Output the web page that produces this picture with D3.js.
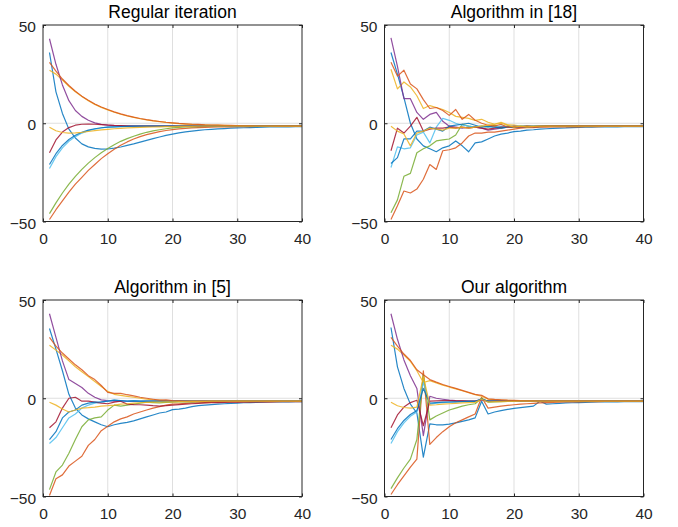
<!DOCTYPE html>
<html>
<head>
<meta charset="utf-8">
<script src="https://cdn.jsdelivr.net/npm/d3@7"></script>
<style>
  body { margin: 0; background: #fff; }
  svg { display: block; }
  text { font-family: "Liberation Sans", Arial, Helvetica, sans-serif; }
</style>
</head>
<body>
<svg id="chart" width="678" height="527"></svg>
<script>
const iterations = d3.range(1, 41);
const xTicks = [0, 10, 20, 30, 40];
const yTicks = [-50, 0, 50];
const titles = ["Regular iteration", "Algorithm in [18]", "Algorithm in [5]", "Our algorithm"];
// matlab default order, wraps after 7
const seriesColors = ["#0072BD", "#D95319", "#EDB120", "#7E2F8E", "#77AC30", "#4DBEEE", "#A2142F", "#0072BD", "#D95319", "#EDB120"];

// Regular iteration
const regBlueA = [36, 16, 5, -3, -7.5, -10.5, -12, -12.8, -13.2, -13.1, -12.7, -12.1, -11.3, -10.5, -9.6, -8.7, -7.8, -7, -6.2, -5.5, -4.9, -4.4, -4, -3.6, -3.3, -3.1, -2.9, -2.7, -2.5, -2.4, -2.3, -2.2, -2.1, -2, -1.9, -1.9, -1.8, -1.8, -1.7, -1.7];
const regOrangeA = [-49, -44, -39.5, -35, -31, -27.5, -24, -21, -18, -15.5, -13.2, -11.2, -9.5, -8, -6.8, -5.8, -5, -4.3, -3.7, -3.2, -2.9, -2.6, -2.4, -2.2, -2.1, -2, -1.9, -1.8, -1.8, -1.7, -1.7, -1.7, -1.6, -1.6, -1.6, -1.6, -1.6, -1.5, -1.5, -1.5];
const regYellowA = [27, 25, 22, 18.8, 16, 13.6, 11.5, 9.6, 8.1, 6.8, 5.6, 4.6, 3.7, 3, 2.3, 1.7, 1.2, 0.8, 0.4, 0.1, -0.2, -0.4, -0.6, -0.7, -0.8, -0.9, -1, -1.1, -1.2, -1.2, -1.3, -1.3, -1.4, -1.4, -1.4, -1.5, -1.5, -1.5, -1.5, -1.5];
const regPurple = [43, 30, 19.5, 11.5, 6.5, 3.5, 1.5, 0.2, -0.6, -1, -1.2, -1.3, -1.4, -1.4, -1.5, -1.5, -1.5, -1.5, -1.5, -1.5, -1.5, -1.5, -1.5, -1.5, -1.5, -1.5, -1.5, -1.5, -1.5, -1.5, -1.5, -1.5, -1.5, -1.5, -1.5, -1.5, -1.5, -1.5, -1.5, -1.5];
const regGreen = [-46, -40.5, -35.5, -31, -27, -23.5, -20.3, -17.5, -15, -12.8, -10.9, -9.2, -7.8, -6.6, -5.5, -4.6, -3.9, -3.3, -2.8, -2.4, -2.1, -1.9, -1.8, -1.7, -1.6, -1.6, -1.5, -1.5, -1.5, -1.5, -1.5, -1.5, -1.5, -1.5, -1.5, -1.5, -1.5, -1.5, -1.5, -1.5];
const regLightBlue = [-23, -17, -12.5, -9.2, -6.8, -5, -3.8, -3, -2.4, -2, -1.8, -1.6, -1.5, -1.5, -1.5, -1.5, -1.5, -1.5, -1.5, -1.5, -1.5, -1.5, -1.5, -1.5, -1.5, -1.5, -1.5, -1.5, -1.5, -1.5, -1.5, -1.5, -1.5, -1.5, -1.5, -1.5, -1.5, -1.5, -1.5, -1.5];
const regDarkRed = [-15, -8.5, -4.5, -2.2, -1, -0.5, -0.4, -0.5, -0.7, -0.9, -1.1, -1.2, -1.3, -1.4, -1.4, -1.5, -1.5, -1.5, -1.5, -1.5, -1.5, -1.5, -1.5, -1.5, -1.5, -1.5, -1.5, -1.5, -1.5, -1.5, -1.5, -1.5, -1.5, -1.5, -1.5, -1.5, -1.5, -1.5, -1.5, -1.5];
const regBlueB = [-21, -15.5, -11.3, -8.3, -6.1, -4.6, -3.5, -2.8, -2.3, -2, -1.8, -1.7, -1.6, -1.5, -1.5, -1.5, -1.5, -1.5, -1.5, -1.5, -1.5, -1.5, -1.5, -1.5, -1.5, -1.5, -1.5, -1.5, -1.5, -1.5, -1.5, -1.5, -1.5, -1.5, -1.5, -1.5, -1.5, -1.5, -1.5, -1.5];
const regOrangeB = [31, 26.5, 22.5, 19.2, 16.3, 13.8, 11.7, 9.8, 8.3, 7, 5.8, 4.8, 3.9, 3.1, 2.4, 1.8, 1.3, 0.9, 0.5, 0.2, -0.1, -0.3, -0.5, -0.6, -0.8, -0.9, -1, -1.1, -1.1, -1.2, -1.3, -1.3, -1.4, -1.4, -1.4, -1.5, -1.5, -1.5, -1.5, -1.5];
const regYellowB = [-2, -3.8, -4.7, -5, -4.9, -4.6, -4.2, -3.8, -3.4, -3.1, -2.8, -2.6, -2.4, -2.2, -2.1, -2, -1.9, -1.8, -1.7, -1.7, -1.6, -1.6, -1.6, -1.5, -1.5, -1.5, -1.5, -1.5, -1.5, -1.5, -1.5, -1.5, -1.5, -1.5, -1.5, -1.5, -1.5, -1.5, -1.5, -1.5];

// Algorithm in [18]
const r18BlueA = [36, 25, 13, 0, -8, -11.5, -13, -14.5, -12.5, -11.5, -9, -11.5, -14.5, -10, -9.5, -8, -6.5, -5.5, -5, -4.3, -4, -3.5, -3.3, -3, -2.8, -2.6, -2.5, -2.4, -2.2, -2.1, -2, -2, -1.9, -1.9, -1.8, -1.8, -1.7, -1.7, -1.7, -1.7];
const r18OrangeA = [-49, -42, -34.5, -35.5, -33.5, -28.5, -21, -23.5, -14, -13.5, -12.5, -10, -6.5, -5, -5, -4.5, -4.5, -4, -3.5, -3, -2.5, -2.3, -2.2, -2, -2, -1.9, -1.9, -1.8, -1.8, -1.8, -1.7, -1.7, -1.7, -1.6, -1.6, -1.6, -1.6, -1.6, -1.6, -1.6];
const r18YellowA = [27.5, 17.5, 21, 18.5, 14, 7.5, 9, 8, 7, 5.5, 3.5, 3, 2.5, 1.5, 2, 0.5, -0.5, 0.5, -0.8, -1, -1.5, -1.2, -1.5, -1.4, -1.3, -1.5, -1.4, -1.6, -1.5, -1.5, -1.5, -1.5, -1.5, -1.5, -1.5, -1.5, -1.5, -1.5, -1.5, -1.5];
const r18Purple = [43.5, 29, 12.5, 12.5, 5.5, 2, 4.5, 5.5, 1, -1.5, -2, -2.5, -2, -2, -2.5, -3.5, -3, -2.5, -2, -2, -1.8, -1.8, -1.7, -1.7, -1.6, -1.6, -1.6, -1.5, -1.5, -1.5, -1.5, -1.5, -1.5, -1.5, -1.5, -1.5, -1.5, -1.5, -1.5, -1.5];
const r18Green = [-45.5, -39, -27, -25.5, -15, -13, -11.5, -9, -8.5, -8, -6, -0.5, -1.5, -2, -1.5, -2, -1, -2.5, -1.5, -2, -1.5, -2, -1.6, -1.7, -1.5, -1.6, -1.5, -1.5, -1.5, -1.5, -1.5, -1.5, -1.5, -1.5, -1.5, -1.5, -1.5, -1.5, -1.5, -1.5];
const r18LightBlue = [-22.5, -12, -13, -12.5, -6, -4.5, -10, -2, 2.5, 1.5, 0, -1, -1.5, -2, -1.5, -2, -1.8, -1.5, -1.6, -1.5, -1.5, -1.5, -1.5, -1.5, -1.5, -1.5, -1.5, -1.5, -1.5, -1.5, -1.5, -1.5, -1.5, -1.5, -1.5, -1.5, -1.5, -1.5, -1.5, -1.5];
const r18DarkRed = [-14, -2.5, -5, -1.5, 3, -4, -3, -2.5, -2.5, -2, -2.5, -2, -2.5, -2, -2.5, -3, -2.5, -2, -2, -1.8, -1.8, -1.7, -1.7, -1.6, -1.6, -1.5, -1.5, -1.5, -1.5, -1.5, -1.5, -1.5, -1.5, -1.5, -1.5, -1.5, -1.5, -1.5, -1.5, -1.5];
const r18BlueB = [-20.5, -17.5, -8, -8, -4, -4, -2, -3, -4, -1.5, -1, -0.5, 0, -1, -2, -1.5, -2, -2.5, -2, -1.8, -1.7, -1.6, -1.6, -1.5, -1.5, -1.5, -1.5, -1.5, -1.5, -1.5, -1.5, -1.5, -1.5, -1.5, -1.5, -1.5, -1.5, -1.5, -1.5, -1.5];
const r18OrangeB = [31, 24, 27, 20, 17.5, 12, 7.5, 8, 6.5, 4, 7, 2, 4.5, 1.5, 0, -1, -1.5, -0.5, -2, -1.5, -1.8, -1.5, -1.7, -1.6, -1.5, -1.5, -1.5, -1.5, -1.5, -1.5, -1.5, -1.5, -1.5, -1.5, -1.5, -1.5, -1.5, -1.5, -1.5, -1.5];
const r18YellowB = [-1.5, -4, -5.5, -11.5, -5, -4, -2.5, -3, -3.5, -2.5, -2.5, -2, -2.5, -2, -1.5, -1, -0.5, 0, -1, -2, -1.5, -1.8, -1.6, -1.5, -1.5, -1.5, -1.5, -1.5, -1.5, -1.5, -1.5, -1.5, -1.5, -1.5, -1.5, -1.5, -1.5, -1.5, -1.5, -1.5];

// Algorithm in [5]
const r5BlueA = [35.5, 25, 14, 2, -5, -8.5, -10.5, -12, -13.5, -14.5, -13.5, -12.8, -12.3, -11.5, -10.5, -9.5, -8.5, -7.5, -7, -5.8, -5.5, -5, -4.3, -3.8, -3.5, -3.2, -3, -2.8, -2.6, -2.5, -2.3, -2.2, -2.1, -2, -1.9, -1.9, -1.8, -1.8, -1.7, -1.7];
const r5OrangeA = [-49.5, -41, -39, -34.5, -32, -29.5, -24, -21, -16.5, -14.3, -12, -10.5, -9.5, -8, -7, -6, -5, -4.3, -3.5, -3, -2.8, -2.6, -2.4, -2.3, -2.2, -2.1, -2, -1.9, -1.9, -1.8, -1.8, -1.8, -1.7, -1.7, -1.7, -1.7, -1.6, -1.6, -1.6, -1.6];
const r5YellowA = [27, 24.5, 22, 19, 16, 13.5, 11, 8.5, 6, 3.5, 2, 1.5, 1, 0.5, 0, -0.5, -0.8, -1, -1.3, -1.4, -1.2, -1.4, -1.5, -1.4, -1.5, -1.5, -1.5, -1.5, -1.5, -1.5, -1.5, -1.5, -1.5, -1.5, -1.5, -1.5, -1.5, -1.5, -1.5, -1.5];
const r5Purple = [43, 31, 19, 9.5, 7.5, 5.5, 2.5, 0.5, -0.8, -1.2, -1.5, -1.3, -1.6, -1.5, -1.6, -1.5, -1.5, -1.5, -1.5, -1.5, -1.5, -1.5, -1.5, -1.5, -1.5, -1.5, -1.5, -1.5, -1.5, -1.5, -1.5, -1.5, -1.5, -1.5, -1.5, -1.5, -1.5, -1.5, -1.5, -1.5];
const r5Green = [-46.5, -37.5, -34, -28, -21, -14.5, -11, -10, -9.5, -6, -3.5, -4, -3.5, -3, -2.5, -2, -2.2, -2.4, -2.1, -2, -1.9, -1.8, -1.8, -1.7, -1.7, -1.6, -1.6, -1.6, -1.5, -1.5, -1.5, -1.5, -1.5, -1.5, -1.5, -1.5, -1.5, -1.5, -1.5, -1.5];
const r5LightBlue = [-23, -20, -15, -10, -8, -5, -3.5, -2.5, -2, -1.5, -1, -1.3, -1.5, -1.2, -1.5, -1.5, -1.5, -1.5, -1.5, -1.5, -1.5, -1.5, -1.5, -1.5, -1.5, -1.5, -1.5, -1.5, -1.5, -1.5, -1.5, -1.5, -1.5, -1.5, -1.5, -1.5, -1.5, -1.5, -1.5, -1.5];
const r5DarkRed = [-15, -12, -5, 0, 0.5, -1.5, -1.5, -2, -2.5, -2.8, -2, -1.5, -3, -3.2, -3.3, -3.5, -3.8, -4, -3.8, -3.5, -3.2, -3, -2.8, -2.6, -2.4, -2.3, -2.2, -2.1, -2, -2, -1.9, -1.9, -1.8, -1.8, -1.8, -1.7, -1.7, -1.7, -1.7, -1.7];
const r5BlueB = [-21, -17, -10, -7, -6, -3.5, -2.5, -2, -1.8, -1.5, -1, -1.2, -1.5, -1.3, -1.5, -1.5, -1.5, -1.5, -1.5, -1.5, -1.5, -1.5, -1.5, -1.5, -1.5, -1.5, -1.5, -1.5, -1.5, -1.5, -1.5, -1.5, -1.5, -1.5, -1.5, -1.5, -1.5, -1.5, -1.5, -1.5];
const r5OrangeB = [31, 26.5, 23, 20, 17, 14.5, 11.5, 9.5, 6.5, 3, 2.5, 2.5, 1.8, 1.2, 0.5, 0, -0.5, -1, -0.8, -1.2, -1.3, -1.4, -1.5, -1.4, -1.5, -1.5, -1.5, -1.5, -1.5, -1.5, -1.5, -1.5, -1.5, -1.5, -1.5, -1.5, -1.5, -1.5, -1.5, -1.5];
const r5YellowB = [-2, -3.5, -5.5, -7, -6, -5, -4.8, -4.5, -4, -3.8, -3.5, -3, -2.8, -2.5, -2.3, -2.1, -2, -1.9, -1.8, -1.8, -1.7, -1.7, -1.6, -1.6, -1.6, -1.5, -1.5, -1.5, -1.5, -1.5, -1.5, -1.5, -1.5, -1.5, -1.5, -1.5, -1.5, -1.5, -1.5, -1.5];

// Our algorithm
const oursBlueA = [36, 16, 5, -3, -7.5, -30, -13, -13.5, -13.5, -13.2, -12.5, -11.8, -11, -10, -1.5, -8, -7, -6.3, -5.7, -5.2, -4.8, -4.4, -4, -1.5, -3, -2.8, -2.6, -2.4, -2.3, -2.2, -2.1, -2, -1.9, -1.9, -1.8, -1.8, -1.7, -1.7, -1.7, -1.7];
const oursOrangeA = [-49, -44, -39.5, -35, -31, 14, -23.5, -20, -17, -14.5, -12.5, -11, -9.5, -8, 0.5, -5, -4.5, -4, -3.6, -3.3, -3, -2.8, -2.6, -2.4, -2.2, -2.1, -2, -1.9, -1.8, -1.8, -1.7, -1.7, -1.7, -1.6, -1.6, -1.6, -1.6, -1.6, -1.6, -1.6];
const oursYellowA = [27, 25, 22, 18.8, 14, 8, 9, 7.8, 6.7, 5.7, 4.8, 3.8, 2.8, 1.8, 1, -0.5, -0.8, -1, -1.1, -1.2, -1.3, -1.3, -1.4, -1.4, -1.4, -1.5, -1.5, -1.5, -1.5, -1.5, -1.5, -1.5, -1.5, -1.5, -1.5, -1.5, -1.5, -1.5, -1.5, -1.5];
const oursPurple = [43, 30, 19.5, 11.5, 5, -19, 1, 0, -0.5, -1, -1.2, -1.3, -1.4, -1.4, -0.5, -1.5, -1.5, -1.5, -1.5, -1.5, -1.5, -1.5, -1.5, -1.5, -1.5, -1.5, -1.5, -1.5, -1.5, -1.5, -1.5, -1.5, -1.5, -1.5, -1.5, -1.5, -1.5, -1.5, -1.5, -1.5];
const oursGreen = [-46, -40.5, -35.5, -31, -21, 12, -11, -9, -7.5, -6, -5, -4, -3.3, -2.8, 0, -2, -1.8, -1.7, -1.6, -1.6, -1.5, -1.5, -1.5, -1.5, -1.5, -1.5, -1.5, -1.5, -1.5, -1.5, -1.5, -1.5, -1.5, -1.5, -1.5, -1.5, -1.5, -1.5, -1.5, -1.5];
const oursLightBlue = [-23, -17, -12.5, -9.2, -7, 8, -3, -2.5, -2.2, -2, -1.8, -1.6, -1.5, -1.5, -0.5, -1.5, -1.5, -1.5, -1.5, -1.5, -1.5, -1.5, -1.5, -1.5, -1.5, -1.5, -1.5, -1.5, -1.5, -1.5, -1.5, -1.5, -1.5, -1.5, -1.5, -1.5, -1.5, -1.5, -1.5, -1.5];
const oursDarkRed = [-15, -8.5, -4.5, -2.2, -1, -14, -1.5, -1.3, -1.2, -1.2, -1.3, -1.3, -1.4, -1.4, -0.8, -1.5, -1.5, -1.5, -1.5, -1.5, -1.5, -1.5, -1.5, -1.5, -1.5, -1.5, -1.5, -1.5, -1.5, -1.5, -1.5, -1.5, -1.5, -1.5, -1.5, -1.5, -1.5, -1.5, -1.5, -1.5];
const oursBlueB = [-21, -15.5, -11.3, -8.3, -6.3, 5, -2.5, -2.2, -2, -1.9, -1.8, -1.7, -1.6, -1.6, -0.5, -1.5, -1.5, -1.5, -1.5, -1.5, -1.5, -1.5, -1.5, -1.5, -1.5, -1.5, -1.5, -1.5, -1.5, -1.5, -1.5, -1.5, -1.5, -1.5, -1.5, -1.5, -1.5, -1.5, -1.5, -1.5];
const oursOrangeB = [31, 26.5, 22.5, 19.2, 14.5, 12, 9.5, 8.2, 7, 6, 5, 4, 3, 2, 1.5, -0.3, -0.6, -0.8, -1, -1.1, -1.2, -1.3, -1.3, -1.4, -1.4, -1.5, -1.5, -1.5, -1.5, -1.5, -1.5, -1.5, -1.5, -1.5, -1.5, -1.5, -1.5, -1.5, -1.5, -1.5];
const oursYellowB = [-2, -3.8, -4.7, -5, -4.5, 11, -3.5, -3.3, -3, -2.8, -2.6, -2.4, -2.2, -2.1, -0.5, -1.8, -1.7, -1.7, -1.6, -1.6, -1.5, -1.5, -1.5, -1.5, -1.5, -1.5, -1.5, -1.5, -1.5, -1.5, -1.5, -1.5, -1.5, -1.5, -1.5, -1.5, -1.5, -1.5, -1.5, -1.5];

const panels = [
  [regBlueA, regOrangeA, regYellowA, regPurple, regGreen, regLightBlue, regDarkRed, regBlueB, regOrangeB, regYellowB],
  [r18BlueA, r18OrangeA, r18YellowA, r18Purple, r18Green, r18LightBlue, r18DarkRed, r18BlueB, r18OrangeB, r18YellowB],
  [r5BlueA, r5OrangeA, r5YellowA, r5Purple, r5Green, r5LightBlue, r5DarkRed, r5BlueB, r5OrangeB, r5YellowB],
  [oursBlueA, oursOrangeA, oursYellowA, oursPurple, oursGreen, oursLightBlue, oursDarkRed, oursBlueB, oursOrangeB, oursYellowB]
];

const panelW = 259, panelH = 196.5;
const panelPos = [[43, 25], [384.5, 25], [43, 300], [384.5, 300]];
const axisColor = '#262626';

const svg = d3.select('#chart');

panels.forEach((series, i) => {
  const [left, top] = panelPos[i];
  const x = d3.scaleLinear().domain([0, 40]).range([left, left + panelW]);
  const y = d3.scaleLinear().domain([-50, 50]).range([top + panelH, top]);
  const g = svg.append('g');

  // grid (only the inner lines show, edges sit under the box)
  g.selectAll('.gx').data(xTicks.slice(1, -1)).enter().append('line')
    .attr('x1', d => x(d)).attr('x2', d => x(d))
    .attr('y1', top).attr('y2', top + panelH)
    .attr('stroke', '#dfdfdf').attr('stroke-width', 1);
  g.selectAll('.gy').data(yTicks.slice(1, -1)).enter().append('line')
    .attr('x1', left).attr('x2', left + panelW)
    .attr('y1', d => y(d)).attr('y2', d => y(d))
    .attr('stroke', '#dfdfdf').attr('stroke-width', 1);

  const line = d3.line()
    .x((d, j) => x(iterations[j]))
    .y(d => y(d));

  g.selectAll('path.series').data(series).enter().append('path')
    .attr('class', 'series')
    .attr('d', line)
    .attr('fill', 'none')
    .attr('stroke', (d, j) => seriesColors[j])
    .attr('stroke-opacity', 0.85)
    .attr('stroke-width', 1.2)
    .attr('stroke-linejoin', 'round');

  // axes with inward ticks on all four sides
  const bottom = g.append('g').attr('transform', `translate(0,${top + panelH})`)
    .call(d3.axisBottom(x).tickValues(xTicks).tickSize(-3).tickPadding(11.5));
  const leftAx = g.append('g').attr('transform', `translate(${left},0)`)
    .call(d3.axisLeft(y).tickValues(yTicks).tickSize(-3).tickPadding(7));
  g.append('g').attr('transform', `translate(0,${top})`)
    .call(d3.axisTop(x).tickValues(xTicks).tickSize(-3).tickFormat(''));
  g.append('g').attr('transform', `translate(${left + panelW},0)`)
    .call(d3.axisRight(y).tickValues(yTicks).tickSize(-3).tickFormat(''));

  g.selectAll('.domain').remove();
  g.selectAll('.tick line').attr('stroke', axisColor);
  bottom.selectAll('text').attr('font-size', 15.5).attr('fill', axisColor)
    .attr('font-family', '"Liberation Sans", Arial, sans-serif');
  leftAx.selectAll('text').attr('font-size', 15.5).attr('fill', axisColor)
    .attr('dy', '0.42em')
    .attr('font-family', '"Liberation Sans", Arial, sans-serif');

  g.append('rect')
    .attr('x', left).attr('y', top)
    .attr('width', panelW).attr('height', panelH)
    .attr('fill', 'none').attr('stroke', axisColor).attr('stroke-width', 1);

  g.append('text')
    .attr('x', left + panelW / 2).attr('y', top - 7.5)
    .attr('text-anchor', 'middle')
    .attr('font-size', 17.5)
    .attr('fill', '#000')
    .text(titles[i]);
});
</script>
</body>
</html>
